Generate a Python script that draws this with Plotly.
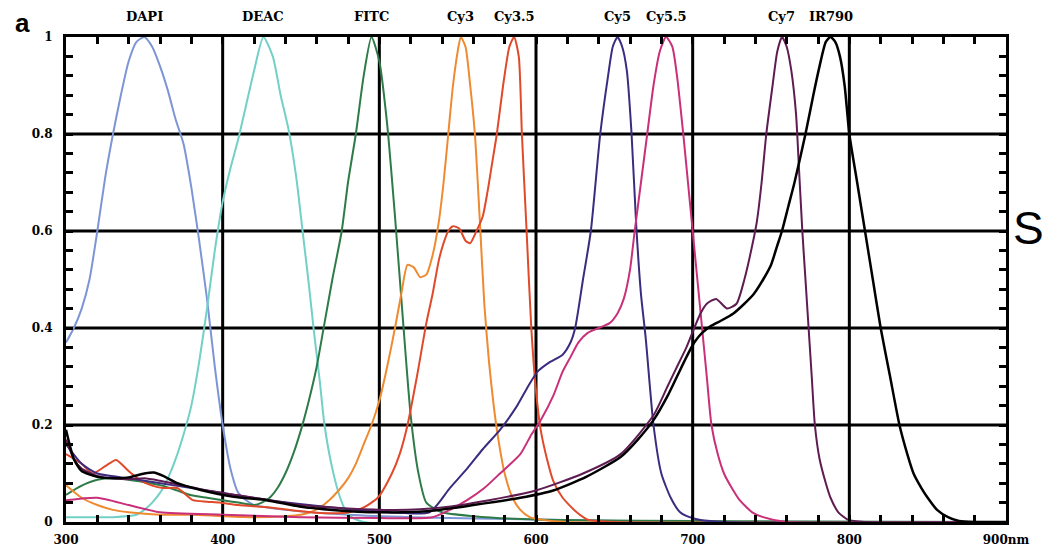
import plotly.graph_objects as go

# Normalised absorption spectra (wavelength in nm, relative absorbance)
wl_dapi = [300, 305, 310, 315, 320, 325, 330, 335, 340, 345, 350, 355, 360, 365, 370, 375, 380,
           385, 390, 395, 400, 405, 410, 415, 420, 440, 480, 520, 600, 700, 900]
ab_dapi = [0.37, 0.40, 0.44, 0.50, 0.60, 0.71, 0.80, 0.88, 0.95, 0.99, 1.00, 0.98, 0.94, 0.89, 0.83,
           0.78, 0.69, 0.58, 0.46, 0.32, 0.20, 0.11, 0.06, 0.045, 0.035, 0.025, 0.015, 0.01, 0.005, 0.0, 0.0]

wl_deac = [300, 330, 345, 350, 355, 360, 365, 370, 375, 380, 385, 390, 395, 400, 405, 410, 415, 420,
           426, 432, 437, 442, 447, 451, 455, 458, 462, 465, 470, 475, 480, 490, 900]
ab_deac = [0.01, 0.01, 0.015, 0.025, 0.04, 0.06, 0.09, 0.13, 0.18, 0.24, 0.33, 0.44, 0.56, 0.66, 0.73,
           0.79, 0.86, 0.93, 1.0, 0.96, 0.88, 0.81, 0.71, 0.60, 0.49, 0.40, 0.29, 0.20, 0.11, 0.05,
           0.015, 0.0, 0.0]

wl_fitc = [300, 310, 320, 330, 340, 350, 360, 370, 380, 390, 400, 410, 420, 425, 430, 435, 440, 445,
           450, 455, 460, 465, 470, 476, 480, 485, 490, 495, 500, 505, 510, 515, 520, 525, 530, 540,
           560, 600, 900]
ab_fitc = [0.056, 0.075, 0.087, 0.09, 0.087, 0.082, 0.076, 0.066, 0.055, 0.05, 0.045, 0.04, 0.035,
           0.04, 0.05, 0.07, 0.10, 0.14, 0.19, 0.25, 0.32, 0.41, 0.50, 0.60, 0.70, 0.80, 0.92, 1.0,
           0.95, 0.82, 0.63, 0.42, 0.22, 0.10, 0.04, 0.02, 0.012, 0.005, 0.0]

wl_cy3 = [300, 310, 320, 330, 340, 360, 380, 400, 420, 440, 450, 456, 462, 468, 474, 480, 485, 490,
          495, 500, 505, 510, 514, 518, 522, 526, 530, 534, 538, 541, 544, 547, 550, 552, 555, 558,
          561, 564, 567, 570, 573, 576, 580, 585, 590, 596, 605, 620, 900]
ab_cy3 = [0.076, 0.05, 0.035, 0.025, 0.02, 0.015, 0.015, 0.012, 0.01, 0.012, 0.015, 0.02, 0.03,
          0.045, 0.065, 0.09, 0.12, 0.16, 0.20, 0.25, 0.32, 0.40, 0.47, 0.53, 0.525, 0.505, 0.51,
          0.55, 0.62, 0.70, 0.80, 0.90, 0.97, 1.0, 0.98, 0.90, 0.80, 0.63, 0.45, 0.33, 0.24, 0.17,
          0.10, 0.05, 0.025, 0.01, 0.004, 0.0, 0.0]

wl_cy35 = [300, 310, 317, 325, 332, 340, 347, 355, 362, 371, 381, 390, 398, 410, 430, 450, 465, 481,
           490, 499, 508, 513, 518, 524, 530, 534, 538, 541, 544, 547, 551, 555, 558, 562, 566, 569,
           572, 575, 579, 583, 586, 589, 591, 594, 597, 600, 603, 607, 611, 617, 626, 633, 650, 900]
ab_cy35 = [0.14, 0.12, 0.10, 0.115, 0.128, 0.105, 0.087, 0.075, 0.07, 0.07, 0.045, 0.042, 0.04,
           0.035, 0.03, 0.022, 0.018, 0.02, 0.03, 0.05, 0.10, 0.14, 0.20, 0.30, 0.41, 0.47, 0.54,
           0.575, 0.60, 0.61, 0.605, 0.58, 0.575, 0.60, 0.63, 0.68, 0.74, 0.80, 0.90, 0.98, 1.0,
           0.96, 0.80, 0.60, 0.40, 0.27, 0.19, 0.13, 0.085, 0.05, 0.02, 0.005, 0.0, 0.0]

wl_cy5 = [300, 310, 320, 340, 370, 400, 430, 470, 500, 532, 545, 556, 566, 577, 588, 595, 601, 609,
          617, 622, 625, 630, 635, 641, 646, 649, 652, 655, 658, 661, 664, 667, 670, 675, 680, 686,
          692, 698, 705, 720, 900]
ab_cy5 = [0.16, 0.12, 0.10, 0.09, 0.075, 0.06, 0.045, 0.03, 0.022, 0.02, 0.07, 0.11, 0.15, 0.19,
          0.24, 0.28, 0.31, 0.33, 0.345, 0.37, 0.40, 0.50, 0.60, 0.80, 0.92, 0.98, 1.0, 0.98, 0.93,
          0.80, 0.61, 0.47, 0.38, 0.20, 0.10, 0.05, 0.02, 0.01, 0.004, 0.0, 0.0]

wl_cy55 = [300, 320, 340, 360, 400, 450, 500, 534, 545, 556, 567, 577, 590, 597, 603, 611, 617, 622,
           627, 633, 640, 647, 652, 656, 660, 663, 667, 671, 675, 679, 683, 687, 690, 694, 697, 700,
           703, 706, 709, 712, 716, 720, 725, 730, 738, 745, 760, 900]
ab_cy55 = [0.045, 0.05, 0.035, 0.02, 0.015, 0.01, 0.008, 0.01, 0.025, 0.045, 0.07, 0.10, 0.14, 0.18,
           0.21, 0.26, 0.31, 0.34, 0.37, 0.39, 0.40, 0.41, 0.43, 0.46, 0.52, 0.60, 0.70, 0.80, 0.90,
           0.97, 1.0, 0.98, 0.92, 0.80, 0.70, 0.60, 0.50, 0.40, 0.30, 0.20, 0.14, 0.10, 0.07, 0.045,
           0.02, 0.01, 0.0, 0.0]

wl_cy7 = [300, 305, 310, 320, 330, 340, 350, 360, 375, 390, 410, 430, 450, 480, 510, 540, 570, 600,
          630, 654, 675, 684, 690, 696, 701, 705, 709, 715, 722, 728, 733, 738, 741, 744, 747, 751,
          754, 757, 760, 763, 766, 768, 770, 772, 774, 776, 778, 781, 785, 788, 793, 799, 810, 900]
ab_cy7 = [0.17, 0.13, 0.11, 0.095, 0.09, 0.088, 0.09, 0.085, 0.075, 0.065, 0.055, 0.045, 0.035,
          0.028, 0.025, 0.03, 0.045, 0.065, 0.10, 0.14, 0.22, 0.28, 0.32, 0.36, 0.40, 0.43, 0.45,
          0.46, 0.44, 0.45, 0.50, 0.57, 0.62, 0.70, 0.80, 0.90, 0.97, 1.0, 0.98, 0.93, 0.84, 0.72,
          0.60, 0.50, 0.40, 0.30, 0.20, 0.13, 0.08, 0.05, 0.02, 0.005, 0.0, 0.0]

wl_ir790 = [300, 305, 310, 320, 330, 340, 350, 356, 362, 371, 386, 407, 428, 449, 470, 500, 530, 560,
            590, 611, 632, 654, 665, 675, 684, 690, 696, 701, 706, 712, 718, 726, 733, 739, 745, 750,
            754, 757, 761, 765, 772, 777, 781, 785, 788, 791, 794, 797, 800, 805, 810, 815, 820, 826,
            832, 837, 841, 846, 850, 856, 863, 870, 880, 900]
ab_ir790 = [0.19, 0.13, 0.105, 0.093, 0.09, 0.092, 0.10, 0.102, 0.095, 0.08, 0.066, 0.052, 0.045,
            0.032, 0.025, 0.02, 0.022, 0.035, 0.05, 0.065, 0.093, 0.134, 0.17, 0.21, 0.26, 0.30,
            0.34, 0.37, 0.39, 0.405, 0.415, 0.43, 0.45, 0.47, 0.50, 0.53, 0.57, 0.60, 0.65, 0.70,
            0.80, 0.88, 0.94, 0.99, 1.0, 0.99, 0.96, 0.90, 0.80, 0.70, 0.60, 0.50, 0.40, 0.30, 0.20,
            0.14, 0.10, 0.07, 0.05, 0.025, 0.01, 0.002, 0.0, 0.0]

dye_names = ["DAPI", "DEAC", "FITC", "Cy3", "Cy3.5", "Cy5", "Cy5.5", "Cy7", "IR790"]
wavelengths = [wl_dapi, wl_deac, wl_fitc, wl_cy3, wl_cy35, wl_cy5, wl_cy55, wl_cy7, wl_ir790]
absorbances = [ab_dapi, ab_deac, ab_fitc, ab_cy3, ab_cy35, ab_cy5, ab_cy55, ab_cy7, ab_ir790]

# labelled (major) ticks and the number of small tick steps between them
x_tick_values = [300, 400, 500, 600, 700, 800, 900]
x_tick_text = ["300", "400", "500", "600", "700", "800", "900nm"]
x_minor_per_major = 5
y_tick_values = [0, 0.2, 0.4, 0.6, 0.8, 1.0]
y_tick_text = ["0", "0.2", "0.4", "0.6", "0.8", "1"]
y_minor_per_major = 5

line_colors = {
    "DAPI": "#7d95d6",
    "DEAC": "#72d0c6",
    "FITC": "#2e7b48",
    "Cy3": "#ee8a30",
    "Cy3.5": "#e04a2a",
    "Cy5": "#3b2c80",
    "Cy5.5": "#c93079",
    "Cy7": "#5e1c52",
    "IR790": "#000000",
}

serif = "DejaVu Serif"


def tick_grid(major_vals, major_text, per_major):
    """Every small tick position, labelled only at the major values."""
    vals, text = [], []
    for i in range(len(major_vals) - 1):
        step = (major_vals[i + 1] - major_vals[i]) / per_major
        for k in range(per_major):
            vals.append(round(major_vals[i] + k * step, 6))
            text.append(major_text[i] if k == 0 else "")
    vals.append(major_vals[-1])
    text.append(major_text[-1])
    return vals, text


x_all, x_all_text = tick_grid(x_tick_values, x_tick_text, x_minor_per_major)
y_all, y_all_text = tick_grid(y_tick_values, y_tick_text, y_minor_per_major)

fig = go.Figure()
for name, xs, ys in zip(dye_names, wavelengths, absorbances):
    fig.add_trace(go.Scatter(
        x=xs, y=ys, mode="lines", name=name,
        line=dict(color=line_colors[name], width=2.5 if name == "IR790" else 2,
                  shape="spline", smoothing=0.6),
        hoverinfo="x+y+name",
    ))
    peak_x = xs[ys.index(max(ys))]
    fig.add_annotation(
        x=peak_x, y=1.0, xref="x", yref="paper", yanchor="bottom", yshift=11,
        text=name, showarrow=False,
        font=dict(family=serif, size=13, color="black", weight="bold"),
    )

# heavy grid lines at the inner major ticks
for xv in x_tick_values[1:-1]:
    fig.add_shape(type="line", xref="x", yref="y domain", x0=xv, x1=xv, y0=0, y1=1,
                  line=dict(color="black", width=3), layer="below")
for yv in y_tick_values[1:-1]:
    fig.add_shape(type="line", xref="x domain", yref="y", x0=0, x1=1, y0=yv, y1=yv,
                  line=dict(color="black", width=3), layer="below")

label_font = dict(family=serif, size=12, color="black", weight="bold")

fig.update_layout(
    width=1047, height=559,
    margin=dict(l=66, r=41, t=37, b=37),
    paper_bgcolor="white", plot_bgcolor="white",
    showlegend=False,
    xaxis=dict(
        range=[x_tick_values[0], x_tick_values[-1]],
        tickmode="array", tickvals=x_all, ticktext=x_all_text,
        ticks="inside", ticklen=7, tickwidth=3, tickcolor="black",
        ticklabelstandoff=5, tickfont=label_font,
        showline=True, linecolor="black", linewidth=3, mirror="ticks",
        showgrid=False, zeroline=False,
    ),
    yaxis=dict(
        range=[y_tick_values[0], y_tick_values[-1]],
        tickmode="array", tickvals=y_all, ticktext=y_all_text,
        ticks="inside", ticklen=7, tickwidth=3, tickcolor="black",
        ticklabelstandoff=8, tickfont=label_font,
        showline=True, linecolor="black", linewidth=3, mirror="ticks",
        showgrid=False, zeroline=False,
    ),
)

# panel letter and the partially visible neighbouring text, placed in pixels
pw, ph = 1047 - 66 - 41, 559 - 37 - 37
fig.add_annotation(x=(22 - 66) / pw, y=1 - (23 - 37) / ph, xref="paper", yref="paper",
                   text="a", showarrow=False, xanchor="center", yanchor="middle",
                   font=dict(family="Liberation Sans", size=26, color="black", weight="bold"))
fig.add_annotation(x=(1046 - 66) / pw, y=1 - (228 - 37) / ph, xref="paper", yref="paper",
                   text="S", showarrow=False, xanchor="right", yanchor="middle",
                   font=dict(family="Liberation Sans", size=46, color="black"))

fig.write_html("out.html")
